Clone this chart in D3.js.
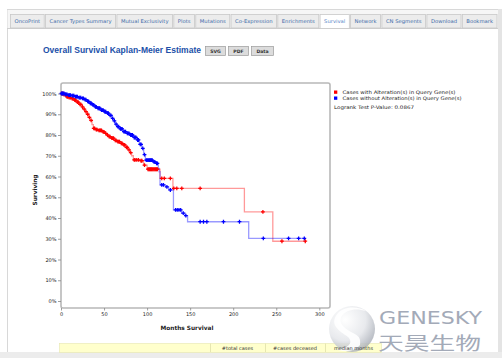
<!DOCTYPE html>
<html><head><meta charset="utf-8">
<script src="https://cdn.jsdelivr.net/npm/d3@7"></script>
<style>
html,body{margin:0;padding:0;background:#fff;overflow:hidden}
svg{display:block}
</style></head>
<body>
<script>
// ---------- data ----------
const tabs = ["OncoPrint","Cancer Types Summary","Mutual Exclusivity","Plots","Mutations","Co-Expression","Enrichments","Survival","Network","CN Segments","Download","Bookmark"];
const activeTab = "Survival";
const title = "Overall Survival Kaplan-Meier Estimate";
const buttons = ["SVG","PDF","Data"];
const seriesNames = ["Cases with Alteration(s) in Query Gene(s)","Cases without Alteration(s) in Query Gene(s)"];
const pValueText = "Logrank Test P-Value: 0.0867";
const xTicks = [0,50,100,150,200,250,300];
const yTicks = [0,10,20,30,40,50,60,70,80,90,100];
const xTitle = "Months Survival";
const yTitle = "Surviving";
const tableHeaders = ["#total cases","#cases deceased","median months"];

// step events [months, survival %]
const redSteps = [[0,100],[3,99.5],[6,98.4],[9,98],[12,97.5],[15,96.8],[18,95.8],[21,94.8],[24,93.5],[26,92.5],[28,91.3],[30,90],[32,88.5],[34,87],[36,85],[37.6,83.2],[40,82.6],[44,82.2],[48,81.5],[51,80.8],[53,80],[55,79.2],[58,78.5],[62,77.4],[65,76.8],[69,76],[72,75.2],[75,74],[78,72.8],[80,71.5],[82,70],[84,68],[92,67.6],[96,65.5],[100,63.5],[115,59.1],[130,54.3],[213,43],[246,28.8]];
const redEnd = 284;
const redCensor = [1,2,3.5,5,7,8,9.5,11,13,14,16,17,19,20,22,23,25,27,29,31,33,35,38,39,41,42,44,45,46,47,49,50,52,54,56,57,59,60,61,63,64,66,67,68,70,71,73,74,76,77,79,81,85,86,88,90,93,94,97,101,102,103,104,105,106,107,108,109,110,111,112,117,120,127,131,134.5,140.3,161.6,234.5,256.6,283.7];

const blueSteps = [[0,100],[4,99.6],[8,99.2],[12,99],[16,98.5],[20,98],[24,97.7],[27,97],[30,96.2],[33,95.3],[36,94.5],[39,93.6],[42,92.9],[46,92],[50,91.2],[53,90.5],[56,89.5],[59,88],[61,86.8],[63,85.2],[65,84],[68,83],[72,81.6],[76,80.8],[80,80],[84,78.8],[88,77.6],[91,75.5],[94,73.6],[96,70.5],[98,67.9],[107,67],[110,66.3],[113,63.9],[114,62.3],[115,56],[121,55],[125,53.5],[130.6,43.9],[140,42.3],[144,41.1],[147,38.2],[218,30.2]];
const blueEnd = 284;
const blueCensor = [0.5,1.5,2.5,3.5,5,6,7,9,10,11,13,14,15,17,18,19,21,22,23,25,26,28,29,31,32,34,35,37,38,40,41,43,44,45,47,48,49,51,52,54,55,57,58,60,62,64,66,67,69,70,71,73,74,75,77,78,79,81,82,83,85,86,87,89,90,92,93,95,97,99,100,101,102,103,104,105,106,108,109,111,112,117,119,123,127,133,135,137,139,142,145,161.6,165.5,169.4,188.7,207.3,235,264.3,276,282.6];

const colors = ["#ff0000","#0000ff"];

// ---------- drawing ----------
const W = 502, H = 358;
const svg = d3.select("body").append("svg").attr("width", W).attr("height", H);
const F = "DejaVu Sans, Verdana, sans-serif";

// page frame
svg.append("rect").attr("x",0).attr("y",0).attr("width",W).attr("height",H).attr("fill","#fff");
svg.append("line").attr("x1",7).attr("x2",W).attr("y1",9.5).attr("y2",9.5).attr("stroke","#d8d8d8");
svg.append("line").attr("x1",7.5).attr("x2",7.5).attr("y1",9).attr("y2",H).attr("stroke","#d8d8d8");
svg.append("rect").attr("x",7.5).attr("y",10).attr("width",W-7).attr("height",19).attr("fill","#f6f6f6");
svg.append("line").attr("x1",7).attr("x2",W).attr("y1",28.5).attr("y2",28.5).attr("stroke","#cfcfcf");
svg.append("rect").attr("x",498).attr("y",9).attr("width",4).attr("height",H).attr("fill","#e4e4e4");

// tabs (widths from text measure, scaled to fit the strip 10..497)
const tabG = svg.append("g");
const tabFont = 5;
const pad = 8, gap = 1.3, x0 = 10.5, x1 = 497;
const tmp = tabs.map(t => {
  const txt = tabG.append("text").attr("font-family",F).attr("font-size",tabFont).text(t);
  const l = txt.node().getComputedTextLength(); txt.remove(); return l;
});
const k = (x1 - x0 - pad*tabs.length - gap*(tabs.length-1)) / d3.sum(tmp);
let tx = x0;
tabs.forEach((t,i) => {
  const tl = tmp[i]*k, w = tl + pad;
  const act = t===activeTab;
  tabG.append("rect").attr("x",tx).attr("y",14.5).attr("width",w).attr("height", act?14:13.5)
    .attr("fill", act ? "#ffffff" : "#ececec").attr("stroke","#c8c8c8").attr("stroke-width",0.8);
  tabG.append("text").attr("font-family",F).attr("font-size",tabFont)
    .attr("fill", act ? "#5a87c8" : "#3d6aa8").attr("x", tx + w/2).attr("y", 23.3)
    .attr("text-anchor","middle").attr("textLength",tl).attr("lengthAdjust","spacingAndGlyphs").text(t);
  tx += w + gap;
});

// title & buttons
svg.append("text").attr("x",43).attr("y",53).attr("font-family","Liberation Sans, Arial, sans-serif")
  .attr("font-weight","bold").attr("font-size",9).attr("fill","#2150a8")
  .attr("textLength",158).attr("lengthAdjust","spacingAndGlyphs").text(title);
const btnX = [205.5,228.5,251.5], btnW = [20,20,22];
buttons.forEach((b,i)=>{
  svg.append("rect").attr("x",btnX[i]).attr("y",46.5).attr("width",btnW[i]).attr("height",9)
    .attr("fill","#dcdcdc").attr("stroke","#9a9a9a").attr("stroke-width",0.7);
  svg.append("text").attr("x",btnX[i]+btnW[i]/2).attr("y",53.2).attr("text-anchor","middle")
    .attr("font-family",F).attr("font-size",4.6).attr("font-weight","bold").attr("fill","#333").text(b);
});

// plot
const x = d3.scaleLinear().domain([0,300]).range([61,319.3]);
const y = d3.scaleLinear().domain([0,100]).range([301,93.5]);

svg.append("rect").attr("x",61).attr("y",83).attr("width",269).attr("height",225)
  .attr("rx",2).attr("fill","#fff").attr("stroke","#b8b8b8").attr("stroke-width",1.6);

const yAxis = svg.append("g").attr("transform","translate(61,0)")
  .call(d3.axisLeft(y).tickValues(yTicks).tickFormat(d=>d+"%").tickSize(3).tickPadding(1.5));
const xAxis = svg.append("g").attr("transform","translate(0,308)")
  .call(d3.axisBottom(x).tickValues(xTicks).tickFormat(d3.format("d")).tickSize(2.5).tickPadding(1.5));
[yAxis,xAxis].forEach(a=>{
  a.select(".domain").remove();
  a.selectAll("line").attr("stroke","#888").attr("stroke-width",0.8);
  a.selectAll("text").attr("font-family",F).attr("font-size",5).attr("fill","#222");
});

svg.append("text").attr("x",187).attr("y",330).attr("text-anchor","middle").attr("font-family",F)
  .attr("font-size",5.8).attr("font-weight","bold").attr("fill","#222").text(xTitle);
svg.append("text").attr("transform","translate(37,190) rotate(-90)").attr("text-anchor","middle")
  .attr("font-family",F).attr("font-size",5.8).attr("font-weight","bold").attr("fill","#222").text(yTitle);

const line = d3.line().x(d=>x(d[0])).y(d=>y(d[1])).curve(d3.curveStepAfter);
function survAt(steps,t){ let v = steps[0][1]; for(const s of steps){ if(s[0]<=t) v=s[1]; } return v; }

const series = [
  {steps: redSteps, end: redEnd, censor: redCensor, color: colors[0]},
  {steps: blueSteps, end: blueEnd, censor: blueCensor, color: colors[1]}
];
const cross = d3.symbol().type(d3.symbolCross).size(8);
series.forEach(s=>{
  const pts = s.steps.concat([[s.end, s.steps[s.steps.length-1][1]]]);
  svg.append("path").attr("d", line(pts)).attr("fill","none").attr("stroke",s.color)
    .attr("stroke-opacity",0.4).attr("stroke-width",1.3);
});
series.forEach(s=>{
  svg.append("g").selectAll("path").data(s.censor).join("path")
    .attr("transform", t=>`translate(${x(t)},${y(survAt(s.steps,t))})`)
    .attr("d", cross).attr("fill", s.color);
});

// legend
seriesNames.forEach((n,i)=>{
  svg.append("rect").attr("x",334).attr("y",90.5+i*6).attr("width",3.3).attr("height",3.3).attr("fill",colors[i]);
  svg.append("text").attr("x",342.5).attr("y",94+i*6).attr("font-family",F).attr("font-size",4.9)
    .attr("fill","#222").attr("textLength",i?119:113).attr("lengthAdjust","spacingAndGlyphs").text(n);
});
svg.append("text").attr("x",334).attr("y",109.3).attr("font-family",F).attr("font-size",4.9)
  .attr("fill","#222").attr("textLength",80).attr("lengthAdjust","spacingAndGlyphs").text(pValueText);

// bottom table
svg.append("rect").attr("x",0).attr("y",352).attr("width",W).attr("height",6).attr("fill","#ececec");
svg.append("rect").attr("x",59.5).attr("y",343.5).attr("width",322).attr("height",9).attr("fill","#ffffcc").attr("stroke","#e6e6b0").attr("stroke-width",0.6);
const cellX = [210,265,325,382];
cellX.slice(0,3).forEach(cx=>svg.append("line").attr("x1",cx+0.5).attr("x2",cx+0.5).attr("y1",343.5).attr("y2",352).attr("stroke","#e6e6b0"));

// watermark
const defs = svg.append("defs");
const rg = defs.append("radialGradient").attr("id","ball").attr("cx","35%").attr("cy","30%").attr("r","75%");
rg.append("stop").attr("offset","0%").attr("stop-color","#ffffff");
rg.append("stop").attr("offset","60%").attr("stop-color","#e4e6ea");
rg.append("stop").attr("offset","100%").attr("stop-color","#a8adb6");
svg.append("circle").attr("cx",352).attr("cy",329).attr("r",23).attr("fill","url(#ball)").attr("opacity",0.85);
svg.append("path").attr("d","M366,311 C348,305 334,317 344,327 C352,335 362,333 360,345 C356,351 344,353 336,349 C348,349 354,343 348,337 C340,331 328,325 338,313 C346,305 360,307 366,311 Z")
  .attr("fill","#ffffff").attr("opacity",0.9);
svg.append("text").attr("x",379).attr("y",324).attr("font-family","DejaVu Sans, sans-serif")
  .attr("font-size",18).attr("fill","#a3aab8").attr("textLength",103).attr("lengthAdjust","spacingAndGlyphs").text("GENESKY");
svg.append("text").attr("x",378).attr("y",350).attr("font-family","Noto Sans CJK SC, sans-serif")
  .attr("font-size",18).attr("fill","#a3aab8").attr("textLength",103).attr("lengthAdjust","spacingAndGlyphs").text("天昊生物");

// table headers drawn over the watermark
tableHeaders.forEach((h,i)=>{
  svg.append("text").attr("x",(cellX[i]+cellX[i+1])/2).attr("y",350).attr("text-anchor","middle")
    .attr("font-family",F).attr("font-size",5).attr("fill","#333").text(h);
});
</script>
</body></html>
